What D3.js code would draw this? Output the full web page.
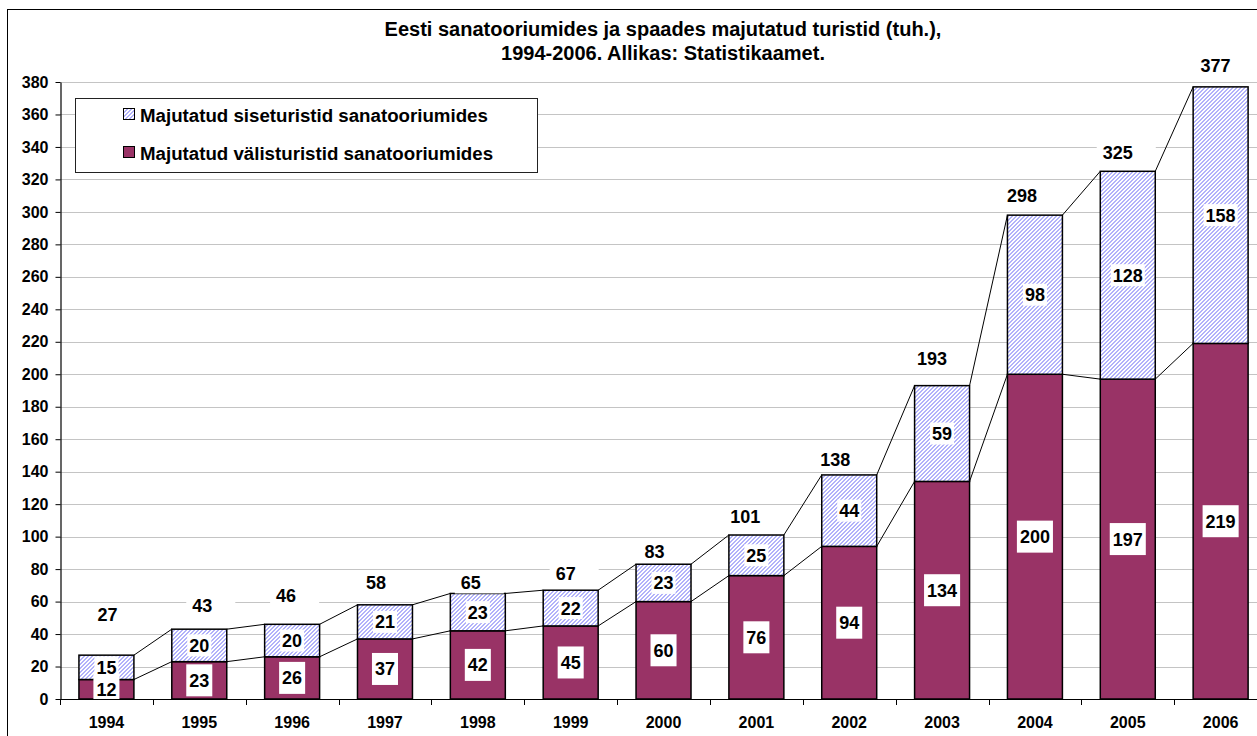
<!DOCTYPE html>
<html><head><meta charset="utf-8">
<script src="https://cdn.jsdelivr.net/npm/d3@7"></script>
<style>
body{margin:0;background:#fff}
svg{display:block}
text{font-family:"Liberation Sans",Arial,sans-serif;font-weight:bold;fill:#000}
</style>
</head><body>
<svg id="c" width="1257" height="736"></svg>
<script>
// ---- data ----
const years = ["1994","1995","1996","1997","1998","1999","2000","2001","2002","2003","2004","2005","2006"];
const valisturistid = [12,23,26,37,42,45,60,76,94,134,200,197,219];
const siseturistid = [15,20,20,21,23,22,23,25,44,59,98,128,158];
const totals = [27,43,46,58,65,67,83,101,138,193,298,325,377];
const yTicks = [0,20,40,60,80,100,120,140,160,180,200,220,240,260,280,300,320,340,360,380];
const seriesNames = ["Majutatud siseturistid sanatooriumides","Majutatud välisturistid sanatooriumides"];
const titleLines = ["Eesti sanatooriumides ja spaades majutatud turistid (tuh.),","1994-2006. Allikas: Statistikaamet."];

// ---- layout (manual label placement as in the original) ----
const totalLift = [41,24,29,22,11,17,13,18,15,27,20,19,21];      // px above stack top
const totalShift = [1,3,-6,-9,-7,-5,-9,-11,-14,-10,-13,-10,-5];   // px from bar centre

const svg = d3.select("#c");
const defs = svg.append("defs");
const pat = defs.append("pattern").attr("id","hatch").attr("width",4).attr("height",4)
  .attr("patternUnits","userSpaceOnUse");
pat.append("rect").attr("width",4).attr("height",4).attr("fill","#fff");
for(let px=0;px<4;px++)for(let py=0;py<4;py++){
  const r=(px+py)%4;
  if(r===3||r===0) pat.append("rect").attr("x",px).attr("y",py).attr("width",1).attr("height",1)
     .attr("fill","#b2b2fa").attr("shape-rendering","crispEdges");
}
const MAROON = "#993366";

// frame
svg.append("rect").attr("x",7.5).attr("y",9.5).attr("width",1300).attr("height",800)
  .attr("fill","#fff").attr("stroke","#000").attr("stroke-width",1);

const plotL=60, plotB=699, plotT=82, step=92.85;
const plotR = plotL+step*years.length;
const x = d3.scaleBand().domain(years).range([plotL,plotR]).paddingInner(0.408).paddingOuter(0.204);
const y = d3.scaleLinear().domain([0,380]).range([plotB,plotT]);
const bw = x.bandwidth();

// title
svg.selectAll("text.title").data(titleLines).join("text").attr("class","title")
  .attr("x",663).attr("y",(d,i)=>29+i*24).attr("dy","0.36em").attr("text-anchor","middle")
  .style("font-size","20px").text(d=>d);

// gridlines
svg.append("g").selectAll("line").data(yTicks.filter(d=>d>0)).join("line")
  .attr("x1",plotL).attr("x2",plotR)
  .attr("y1",d=>Math.round(y(d))+0.5).attr("y2",d=>Math.round(y(d))+0.5)
  .attr("stroke","#c4c4c4").attr("stroke-width",1.2);

// legend
const lg = svg.append("g");
lg.append("rect").attr("x",75.5).attr("y",98.5).attr("width",462).attr("height",74)
  .attr("fill","#fff").attr("stroke","#222").attr("stroke-width",1);
const lgFills = ["url(#hatch)", MAROON];
seriesNames.forEach((n,i)=>{
  const cy = 115+i*38;
  lg.append("rect").attr("x",123.5).attr("y",cy-6.5).attr("width",11).attr("height",11)
    .attr("fill",lgFills[i]).attr("stroke","#000").attr("stroke-width",1);
  lg.append("text").attr("x",140).attr("y",cy).attr("dy","0.36em")
    .style("font-size","18.7px").text(n);
});

// stack
const rows = years.map((yr,i)=>({year:yr, valis:valisturistid[i], sise:siseturistid[i]}));
const stack = d3.stack().keys(["valis","sise"])(rows);
const fills = {valis:MAROON, sise:"url(#hatch)"};

// series lines
const sl = svg.append("g");
stack.forEach(layer=>{
  for(let i=0;i<layer.length-1;i++){
    sl.append("line")
      .attr("x1",x(years[i])+bw).attr("y1",y(layer[i][1]))
      .attr("x2",x(years[i+1])).attr("y2",y(layer[i+1][1]))
      .attr("stroke","#000").attr("stroke-width",1);
  }
});

// bars
const bars = svg.append("g");
stack.forEach(layer=>{
  bars.selectAll(null).data(layer).join("rect")
    .attr("x",(d,i)=>x(years[i])).attr("width",bw)
    .attr("y",d=>y(d[1])).attr("height",d=>y(d[0])-y(d[1]))
    .attr("fill",fills[layer.key]).attr("stroke","#000").attr("stroke-width",1.5);
});

// labels
function boxLabel(g, cx, cy, txt, padL, padR, h, fs){
  const grp = g.append("g");
  const r = grp.append("rect").attr("fill","#fff");
  const t = grp.append("text").attr("x",cx).attr("y",cy).attr("dy","0.36em")
    .attr("text-anchor","middle").style("font-size",fs+"px").text(txt);
  const w = t.node().getComputedTextLength();
  r.attr("x",cx-w/2-padL).attr("y",cy-h/2).attr("width",w+padL+padR).attr("height",h);
}
const lab = svg.append("g");
stack.forEach(layer=>{
  layer.forEach((d,i)=>{
    const cx = x(years[i])+bw/2;
    const cy = (y(d[0])+y(d[1]))/2;
    const v = d[1]-d[0];
    if(layer.key==="valis") boxLabel(lab,cx,cy,v,3,3,32,18);
    else boxLabel(lab,cx,cy,v,2,2,22,18);
  });
});
totals.forEach((v,i)=>{
  const cx = x(years[i])+bw/2+totalShift[i];
  const cy = y(v)-totalLift[i];
  boxLabel(lab,cx,cy,v,6,23,22,18);
});

// y axis
const ya = svg.append("g").attr("transform",`translate(${plotL+0.5},0)`)
  .call(d3.axisLeft(y).tickValues(yTicks).tickSize(5).tickSizeOuter(0).tickPadding(7));
ya.select(".domain").attr("stroke","#000").attr("stroke-width",1.2);
ya.selectAll(".tick line").attr("stroke","#000");
ya.selectAll(".tick text").style("font-size","16px").style("font-family","'Liberation Sans',Arial,sans-serif")
  .style("font-weight","bold").attr("fill","#000");

// x axis
const xa = svg.append("g");
xa.append("line").attr("x1",plotL).attr("x2",plotR).attr("y1",plotB+0.5).attr("y2",plotB+0.5)
  .attr("stroke","#000").attr("stroke-width",1.2);
const bounds = years.map(yr=>x(yr)-(x.step()-bw)/2).concat([plotR]);
xa.selectAll("line.t").data(bounds).join("line").attr("class","t")
  .attr("x1",d=>Math.round(d)+0.5).attr("x2",d=>Math.round(d)+0.5)
  .attr("y1",plotB).attr("y2",plotB+6).attr("stroke","#000");
xa.selectAll("text").data(years).join("text")
  .attr("x",d=>x(d)+bw/2).attr("y",722).attr("dy","0.36em").attr("text-anchor","middle")
  .style("font-size","16px").text(d=>d);
</script>
</body></html>
